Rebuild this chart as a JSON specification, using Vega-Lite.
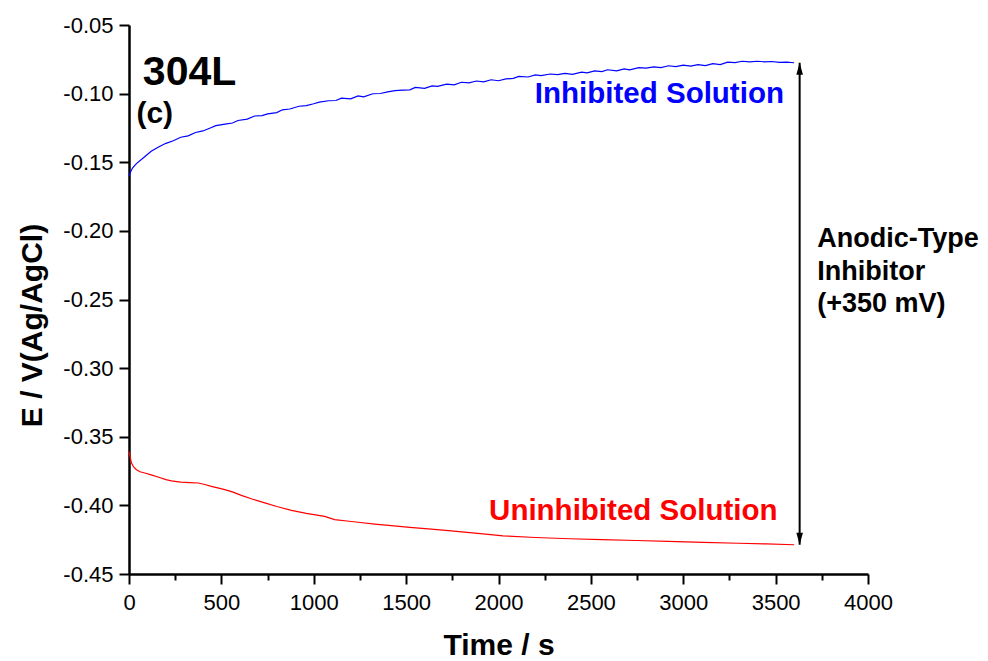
{
  "$schema": "https://vega.github.io/schema/vega-lite/v6.json",
  "width": 739,
  "height": 549,
  "autosize": {"type": "none"},
  "padding": {"left": 129, "top": 25, "right": 120, "bottom": 87},
  "background": "white",
  "config": {
    "view": {"stroke": null},
    "font": "Liberation Sans",
    "axis": {"labelFont": "Liberation Sans", "titleFont": "Liberation Sans"}
  },
  "layer": [
    {
      "data": {"values": [
        {"s": "Inhibited", "t": 0, "v": -0.1600},
        {"s": "Inhibited", "t": 10, "v": -0.1565},
        {"s": "Inhibited", "t": 20, "v": -0.1540},
        {"s": "Inhibited", "t": 40, "v": -0.1510},
        {"s": "Inhibited", "t": 80, "v": -0.1465},
        {"s": "Inhibited", "t": 120, "v": -0.1420},
        {"s": "Inhibited", "t": 160, "v": -0.1389},
        {"s": "Inhibited", "t": 200, "v": -0.1362},
        {"s": "Inhibited", "t": 240, "v": -0.1343},
        {"s": "Inhibited", "t": 280, "v": -0.1318},
        {"s": "Inhibited", "t": 320, "v": -0.1308},
        {"s": "Inhibited", "t": 360, "v": -0.1283},
        {"s": "Inhibited", "t": 400, "v": -0.1272},
        {"s": "Inhibited", "t": 440, "v": -0.1250},
        {"s": "Inhibited", "t": 470, "v": -0.1233},
        {"s": "Inhibited", "t": 520, "v": -0.1222},
        {"s": "Inhibited", "t": 560, "v": -0.1214},
        {"s": "Inhibited", "t": 590, "v": -0.1196},
        {"s": "Inhibited", "t": 640, "v": -0.1186},
        {"s": "Inhibited", "t": 680, "v": -0.1163},
        {"s": "Inhibited", "t": 720, "v": -0.1160},
        {"s": "Inhibited", "t": 750, "v": -0.1148},
        {"s": "Inhibited", "t": 800, "v": -0.1138},
        {"s": "Inhibited", "t": 830, "v": -0.1118},
        {"s": "Inhibited", "t": 870, "v": -0.1112},
        {"s": "Inhibited", "t": 920, "v": -0.1092},
        {"s": "Inhibited", "t": 960, "v": -0.1087},
        {"s": "Inhibited", "t": 1000, "v": -0.1074},
        {"s": "Inhibited", "t": 1030, "v": -0.1062},
        {"s": "Inhibited", "t": 1080, "v": -0.1052},
        {"s": "Inhibited", "t": 1120, "v": -0.1050},
        {"s": "Inhibited", "t": 1150, "v": -0.1033},
        {"s": "Inhibited", "t": 1200, "v": -0.1038},
        {"s": "Inhibited", "t": 1240, "v": -0.1016},
        {"s": "Inhibited", "t": 1270, "v": -0.1024},
        {"s": "Inhibited", "t": 1320, "v": -0.1001},
        {"s": "Inhibited", "t": 1360, "v": -0.0999},
        {"s": "Inhibited", "t": 1400, "v": -0.0987},
        {"s": "Inhibited", "t": 1440, "v": -0.0978},
        {"s": "Inhibited", "t": 1480, "v": -0.0975},
        {"s": "Inhibited", "t": 1520, "v": -0.0972},
        {"s": "Inhibited", "t": 1550, "v": -0.0955},
        {"s": "Inhibited", "t": 1600, "v": -0.0961},
        {"s": "Inhibited", "t": 1640, "v": -0.0944},
        {"s": "Inhibited", "t": 1670, "v": -0.0947},
        {"s": "Inhibited", "t": 1720, "v": -0.0931},
        {"s": "Inhibited", "t": 1760, "v": -0.0936},
        {"s": "Inhibited", "t": 1800, "v": -0.0917},
        {"s": "Inhibited", "t": 1840, "v": -0.0921},
        {"s": "Inhibited", "t": 1880, "v": -0.0908},
        {"s": "Inhibited", "t": 1920, "v": -0.0914},
        {"s": "Inhibited", "t": 1960, "v": -0.0899},
        {"s": "Inhibited", "t": 2000, "v": -0.0906},
        {"s": "Inhibited", "t": 2040, "v": -0.0893},
        {"s": "Inhibited", "t": 2080, "v": -0.0889},
        {"s": "Inhibited", "t": 2110, "v": -0.0874},
        {"s": "Inhibited", "t": 2160, "v": -0.0879},
        {"s": "Inhibited", "t": 2200, "v": -0.0863},
        {"s": "Inhibited", "t": 2230, "v": -0.0869},
        {"s": "Inhibited", "t": 2280, "v": -0.0857},
        {"s": "Inhibited", "t": 2320, "v": -0.0862},
        {"s": "Inhibited", "t": 2360, "v": -0.0852},
        {"s": "Inhibited", "t": 2400, "v": -0.0859},
        {"s": "Inhibited", "t": 2450, "v": -0.0844},
        {"s": "Inhibited", "t": 2480, "v": -0.0849},
        {"s": "Inhibited", "t": 2520, "v": -0.0834},
        {"s": "Inhibited", "t": 2560, "v": -0.0839},
        {"s": "Inhibited", "t": 2590, "v": -0.0826},
        {"s": "Inhibited", "t": 2640, "v": -0.0834},
        {"s": "Inhibited", "t": 2680, "v": -0.0820},
        {"s": "Inhibited", "t": 2710, "v": -0.0827},
        {"s": "Inhibited", "t": 2760, "v": -0.0810},
        {"s": "Inhibited", "t": 2800, "v": -0.0814},
        {"s": "Inhibited", "t": 2840, "v": -0.0805},
        {"s": "Inhibited", "t": 2880, "v": -0.0811},
        {"s": "Inhibited", "t": 2920, "v": -0.0797},
        {"s": "Inhibited", "t": 2960, "v": -0.0803},
        {"s": "Inhibited", "t": 3000, "v": -0.0792},
        {"s": "Inhibited", "t": 3040, "v": -0.0800},
        {"s": "Inhibited", "t": 3080, "v": -0.0789},
        {"s": "Inhibited", "t": 3120, "v": -0.0796},
        {"s": "Inhibited", "t": 3160, "v": -0.0782},
        {"s": "Inhibited", "t": 3200, "v": -0.0788},
        {"s": "Inhibited", "t": 3240, "v": -0.0771},
        {"s": "Inhibited", "t": 3280, "v": -0.0774},
        {"s": "Inhibited", "t": 3320, "v": -0.0764},
        {"s": "Inhibited", "t": 3360, "v": -0.0769},
        {"s": "Inhibited", "t": 3400, "v": -0.0764},
        {"s": "Inhibited", "t": 3440, "v": -0.0768},
        {"s": "Inhibited", "t": 3480, "v": -0.0766},
        {"s": "Inhibited", "t": 3520, "v": -0.0773},
        {"s": "Inhibited", "t": 3560, "v": -0.0771},
        {"s": "Inhibited", "t": 3600, "v": -0.0775},
        {"s": "Uninhibited", "t": 0, "v": -0.3606},
        {"s": "Uninhibited", "t": 5, "v": -0.3640},
        {"s": "Uninhibited", "t": 13, "v": -0.3690},
        {"s": "Uninhibited", "t": 25, "v": -0.3720},
        {"s": "Uninhibited", "t": 40, "v": -0.3740},
        {"s": "Uninhibited", "t": 60, "v": -0.3755},
        {"s": "Uninhibited", "t": 85, "v": -0.3764},
        {"s": "Uninhibited", "t": 120, "v": -0.3778},
        {"s": "Uninhibited", "t": 157, "v": -0.3793},
        {"s": "Uninhibited", "t": 200, "v": -0.3812},
        {"s": "Uninhibited", "t": 229, "v": -0.3822},
        {"s": "Uninhibited", "t": 280, "v": -0.3830},
        {"s": "Uninhibited", "t": 330, "v": -0.3834},
        {"s": "Uninhibited", "t": 374, "v": -0.3837},
        {"s": "Uninhibited", "t": 410, "v": -0.3848},
        {"s": "Uninhibited", "t": 446, "v": -0.3861},
        {"s": "Uninhibited", "t": 480, "v": -0.3872},
        {"s": "Uninhibited", "t": 518, "v": -0.3885},
        {"s": "Uninhibited", "t": 560, "v": -0.3902},
        {"s": "Uninhibited", "t": 608, "v": -0.3927},
        {"s": "Uninhibited", "t": 670, "v": -0.3955},
        {"s": "Uninhibited", "t": 735, "v": -0.3982},
        {"s": "Uninhibited", "t": 800, "v": -0.4008},
        {"s": "Uninhibited", "t": 879, "v": -0.4036},
        {"s": "Uninhibited", "t": 960, "v": -0.4058},
        {"s": "Uninhibited", "t": 1059, "v": -0.4080},
        {"s": "Uninhibited", "t": 1113, "v": -0.4104},
        {"s": "Uninhibited", "t": 1180, "v": -0.4114},
        {"s": "Uninhibited", "t": 1240, "v": -0.4123},
        {"s": "Uninhibited", "t": 1330, "v": -0.4136},
        {"s": "Uninhibited", "t": 1420, "v": -0.4147},
        {"s": "Uninhibited", "t": 1520, "v": -0.4160},
        {"s": "Uninhibited", "t": 1619, "v": -0.4171},
        {"s": "Uninhibited", "t": 1730, "v": -0.4184},
        {"s": "Uninhibited", "t": 1844, "v": -0.4198},
        {"s": "Uninhibited", "t": 1930, "v": -0.4210},
        {"s": "Uninhibited", "t": 2024, "v": -0.4222},
        {"s": "Uninhibited", "t": 2200, "v": -0.4234},
        {"s": "Uninhibited", "t": 2385, "v": -0.4243},
        {"s": "Uninhibited", "t": 2560, "v": -0.4250},
        {"s": "Uninhibited", "t": 2746, "v": -0.4256},
        {"s": "Uninhibited", "t": 2920, "v": -0.4263},
        {"s": "Uninhibited", "t": 3107, "v": -0.4269},
        {"s": "Uninhibited", "t": 3300, "v": -0.4276},
        {"s": "Uninhibited", "t": 3450, "v": -0.4281},
        {"s": "Uninhibited", "t": 3600, "v": -0.4287}
      ]},
      "mark": {"type": "line", "strokeWidth": 1.2, "interpolate": "linear"},
      "encoding": {
        "x": {
          "field": "t", "type": "quantitative",
          "scale": {"domain": [0, 4000], "nice": false, "zero": false},
          "axis": {
            "title": "Time / s",
            "titleFontSize": 30, "titleFontWeight": "bold", "titleColor": "black",
            "titleBaseline": "alphabetic", "titleY": 80,
            "values": [0, 250, 500, 750, 1000, 1250, 1500, 1750, 2000, 2250, 2500, 2750, 3000, 3250, 3500, 3750, 4000],
            "labelExpr": "datum.value % 500 === 0 ? datum.label : ''",
            "format": "d",
            "labelFontSize": 22, "labelColor": "black", "labelPadding": 8,
            "labelOverlap": false, "labelFlush": false, "labelBound": false,
            "grid": false,
            "domainColor": "black", "domainWidth": 2.5,
            "tickColor": "black", "tickWidth": 2,
            "tickSize": {"condition": {"test": "datum.value % 500 === 0", "value": 10}, "value": 6}
          }
        },
        "y": {
          "field": "v", "type": "quantitative",
          "scale": {"domain": [-0.45, -0.05], "nice": false, "zero": false},
          "axis": {
            "title": "E / V(Ag/AgCl)",
            "titleFontSize": 30, "titleFontWeight": "bold", "titleColor": "black",
            "titleAngle": -90, "titleBaseline": "alphabetic", "titleAlign": "center",
            "titleX": -88, "titleY": 300,
            "values": [-0.45, -0.425, -0.4, -0.375, -0.35, -0.325, -0.3, -0.275, -0.25, -0.225, -0.2, -0.175, -0.15, -0.125, -0.1, -0.075, -0.05],
            "labelExpr": "abs(round(datum.value * 1000)) % 50 === 0 ? replace(format(datum.value, '.2f'), '\u2212', '-') : ''",
            "labelFontSize": 22, "labelColor": "black", "labelPadding": 6,
            "labelOverlap": false, "labelBound": false, "labelFlush": false,
            "grid": false,
            "domainColor": "black", "domainWidth": 2.5,
            "tickColor": "black", "tickWidth": 2,
            "tickSize": {"condition": {"test": "abs(round(datum.value * 1000)) % 50 === 0", "value": 10}, "value": 6}
          }
        },
        "color": {
          "field": "s", "type": "nominal",
          "scale": {"domain": ["Inhibited", "Uninhibited"], "range": ["#0000ff", "#ff0000"]},
          "legend": null
        }
      }
    },
    {
      "data": {"values": [{"t": 3630, "v": -0.0775, "v2": -0.4286}]},
      "mark": {"type": "rule", "color": "black", "strokeWidth": 2},
      "encoding": {
        "x": {"field": "t", "type": "quantitative"},
        "y": {"field": "v", "type": "quantitative"},
        "y2": {"field": "v2"}
      }
    },
    {
      "data": {"values": [{"t": 3630, "v": -0.0818}]},
      "mark": {"type": "point", "shape": "M0,-1L0.55,1L-0.55,1Z", "filled": true, "color": "black", "size": 144, "opacity": 1, "strokeWidth": 0},
      "encoding": {
        "x": {"field": "t", "type": "quantitative"},
        "y": {"field": "v", "type": "quantitative"}
      }
    },
    {
      "data": {"values": [{"t": 3630, "v": -0.4243}]},
      "mark": {"type": "point", "shape": "M0,1L0.55,-1L-0.55,-1Z", "filled": true, "color": "black", "size": 144, "opacity": 1, "strokeWidth": 0},
      "encoding": {
        "x": {"field": "t", "type": "quantitative"},
        "y": {"field": "v", "type": "quantitative"}
      }
    },
    {
      "data": {"values": [{"t": 75, "v": -0.0937, "label": "304L"}]},
      "mark": {"type": "text", "font": "Liberation Sans", "fontWeight": "bold", "fontSize": 41, "align": "left", "baseline": "alphabetic", "color": "black"},
      "encoding": {
        "x": {"field": "t", "type": "quantitative"},
        "y": {"field": "v", "type": "quantitative"},
        "text": {"field": "label"}
      }
    },
    {
      "data": {"values": [{"t": 40, "v": -0.1213, "label": "(c)"}]},
      "mark": {"type": "text", "font": "Liberation Sans", "fontWeight": "bold", "fontSize": 30, "align": "left", "baseline": "alphabetic", "color": "black"},
      "encoding": {
        "x": {"field": "t", "type": "quantitative"},
        "y": {"field": "v", "type": "quantitative"},
        "text": {"field": "label"}
      }
    },
    {
      "data": {"values": [{"t": 3545, "v": -0.1066, "label": "Inhibited Solution"}]},
      "mark": {"type": "text", "font": "Liberation Sans", "fontWeight": "bold", "fontSize": 29.5, "align": "right", "baseline": "alphabetic", "color": "#0000ff"},
      "encoding": {
        "x": {"field": "t", "type": "quantitative"},
        "y": {"field": "v", "type": "quantitative"},
        "text": {"field": "label"}
      }
    },
    {
      "data": {"values": [{"t": 3510, "v": -0.4104, "label": "Uninhibited Solution"}]},
      "mark": {"type": "text", "font": "Liberation Sans", "fontWeight": "bold", "fontSize": 29.5, "align": "right", "baseline": "alphabetic", "color": "#ff0000"},
      "encoding": {
        "x": {"field": "t", "type": "quantitative"},
        "y": {"field": "v", "type": "quantitative"},
        "text": {"field": "label"}
      }
    },
    {
      "data": {"values": [
        {"t": 3725, "v": -0.2114, "label": "Anodic-Type"},
        {"t": 3725, "v": -0.2356, "label": "Inhibitor"},
        {"t": 3725, "v": -0.2589, "label": "(+350 mV)"}
      ]},
      "mark": {"type": "text", "font": "Liberation Sans", "fontWeight": "bold", "fontSize": 27, "align": "left", "baseline": "alphabetic", "color": "black"},
      "encoding": {
        "x": {"field": "t", "type": "quantitative"},
        "y": {"field": "v", "type": "quantitative"},
        "text": {"field": "label"}
      }
    }
  ]
}
